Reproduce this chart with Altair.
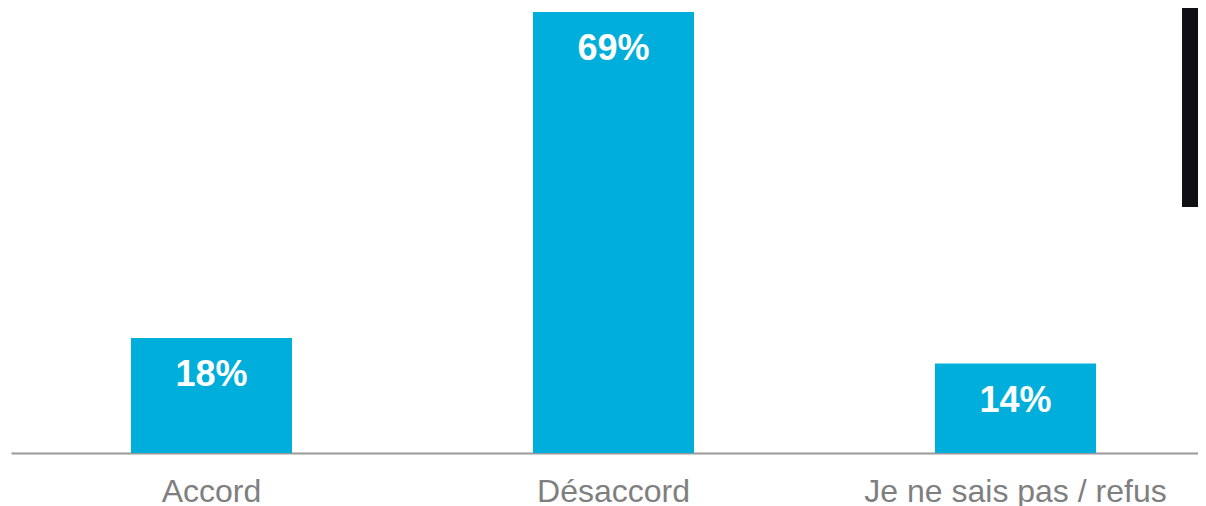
import altair as alt
import pandas as pd

categories = ["Accord", "Désaccord", "Je ne sais pas / refus"]
values = [18, 69, 14]
labels = ["18%", "69%", "14%"]

df = pd.DataFrame({"cat": categories, "val": values, "lab": labels})

FONT = "Arial, Liberation Sans, Helvetica, sans-serif"
BAR = "#00AEDB"

x = alt.X(
    "cat:N",
    sort=categories,
    title=None,
    scale=alt.Scale(paddingInner=0.5995, paddingOuter=0.2761, align=0.5405),
    axis=alt.Axis(
        labelAngle=0,
        labelFontSize=32,
        labelFont=FONT,
        labelColor="#7F7F7F",
        labelBaseline="alphabetic",
        labelPadding=48,
        ticks=False,
        tickSize=0,
        domainColor="#999999",
        domainWidth=2,
        labelLimit=0,
    ),
)
y = alt.Y("val:Q", scale=alt.Scale(domain=[0, 69], nice=False, zero=True), axis=None)

bars = alt.Chart(df).mark_bar(color=BAR).encode(x=x, y=y)
text = alt.Chart(df).mark_text(
    color="white", font=FONT, fontSize=36, fontWeight="bold", baseline="alphabetic", dy=48
).encode(x=x, y=y, text="lab:N")

deco = alt.Chart(df).mark_rect(color="#101014").encode(
    x=alt.value(1171), x2=alt.value(1190), y=alt.value(-12), y2=alt.value(195)
)

chart = alt.layer(bars, text, deco).properties(
    width=1187,
    height=441,
    padding={"left": 3, "top": 4, "right": 0, "bottom": 53},
    autosize=alt.AutoSizeParams(type="none"),
).configure_view(stroke=None)

chart.save("out.html", embed_options={"renderer": "svg", "actions": False})
